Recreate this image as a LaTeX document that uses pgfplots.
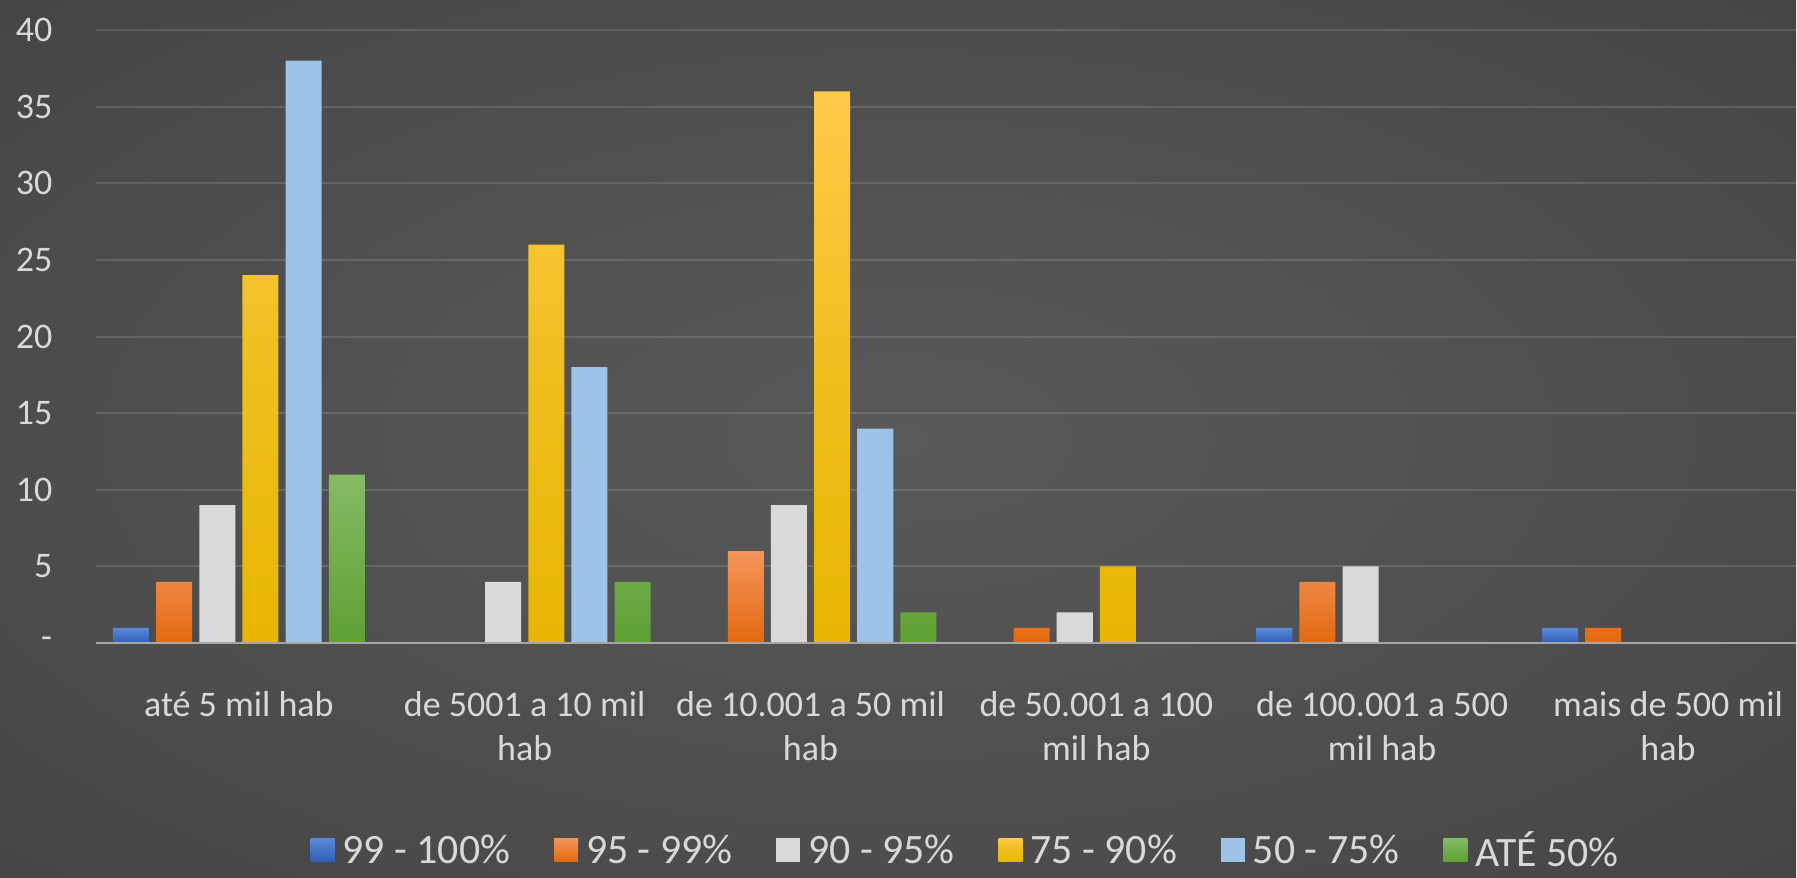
\documentclass[border=0pt]{standalone}
\usepackage{pgfplots}
\pgfplotsset{compat=1.18}
\usepackage{fontspec}
\setmainfont{Carlito}

\definecolor{labc}{HTML}{D9D9D9}
\definecolor{axisc}{HTML}{A6A6A6}
\definecolor{bgA}{HTML}{595959}
\definecolor{bgB}{HTML}{4C4C4C}
\definecolor{bgC}{HTML}{3A3A3A}
\definecolor{bgD}{HTML}{2A2A2A}
\definecolor{b1t}{HTML}{5A8AD8}\definecolor{b1b}{HTML}{2F5DB8}
\definecolor{b2t}{HTML}{F4955B}\definecolor{b2b}{HTML}{E3690F}
\definecolor{b3}{HTML}{D9D9D9}
\definecolor{b4t}{HTML}{FFCA4A}\definecolor{b4b}{HTML}{E6B600}
\definecolor{b5}{HTML}{9DC3E6}
\definecolor{b6t}{HTML}{85BB65}\definecolor{b6b}{HTML}{5EA032}

\pgfdeclareradialshading{bgshade}{\pgfpoint{0bp}{0bp}}{%
  color(0bp)=(bgA); color(25bp)=(bgB); color(50bp)=(bgC); color(72bp)=(bgD)}

\newcommand\tickfont{\fontsize{10.25}{12.5}\selectfont}
\newcommand\legfont{\fontsize{11.9}{14}\selectfont}

\begin{document}
\begin{tikzpicture}
\shade[shading=bgshade] (0,0) rectangle (179.7mm,87.8mm);
\begin{axis}[
  at={(9.6mm,23.45mm)}, anchor=south west,
  scale only axis, width=170.1mm, height=61.35mm,
  xmin=-0.5, xmax=5.448, ymin=0, ymax=40,
  axis line style={draw=none},
  tick style={draw=none},
  ybar, bar width=0.126,
  ytick={0,5,...,40},
  yticklabels={{-\hspace{0.7mm}},5,10,15,20,25,30,35,40},
  ymajorgrids,
  grid style={draw=white, draw opacity=0.13, line width=0.2mm},
  yticklabel style={font=\tickfont, text=labc, inner sep=0pt, xshift=-4.3mm},
  xtick={0,...,5},
  xticklabels={{até 5 mil hab},{de 5001 a 10 mil\\hab},{de 10.001 a 50 mil\\hab},
    {de 50.001 a 100\\mil hab},{de 100.001 a 500\\mil hab},{mais de 500 mil\\hab}},
  xticklabel style={font=\tickfont, text=labc, align=center, anchor=north,
    inner sep=0pt, yshift=-3.25mm},
  legend columns=6,
  legend style={at={(0.511,-0.374)}, anchor=south, draw=none, fill=none,
    font=\legfont, text=labc, inner sep=0pt,
    nodes={inner sep=0pt},
    /tikz/every odd column/.append style={column sep=0.8mm},
    /tikz/every even column/.append style={column sep=4.4mm}},
  legend image code/.code={\path[#1,draw=none] (0mm,-1.0mm) rectangle (2.4mm,1.35mm);},
]
\addplot[bar shift=-0.3775, draw=none, top color=b1t, bottom color=b1b]
  coordinates {(0,1) (4,1) (5,1)};
\addlegendentry{99 - 100\%}
\addplot[bar shift=-0.2265, draw=none, top color=b2t, bottom color=b2b]
  coordinates {(0,4) (2,6) (3,1) (4,4) (5,1)};
\addlegendentry{95 - 99\%}
\addplot[bar shift=-0.0755, draw=none, fill=b3]
  coordinates {(0,9) (1,4) (2,9) (3,2) (4,5)};
\addlegendentry{90 - 95\%}
\addplot[bar shift=0.0755, draw=none, top color=b4t, bottom color=b4b, middle color=b4t!40!b4b]
  coordinates {(0,24) (1,26) (2,36) (3,5)};
\addlegendentry{75 - 90\%}
\addplot[bar shift=0.2265, draw=none, fill=b5]
  coordinates {(0,38) (1,18) (2,14)};
\addlegendentry{50 - 75\%}
\addplot[bar shift=0.3775, draw=none, top color=b6t, bottom color=b6b]
  coordinates {(0,11) (1,4) (2,2)};
\addlegendentry{ATÉ 50\%}
\draw[axisc, line width=0.3mm] (axis cs:-0.5,0) -- (axis cs:5.448,0);
\end{axis}
\end{tikzpicture}
\end{document}
